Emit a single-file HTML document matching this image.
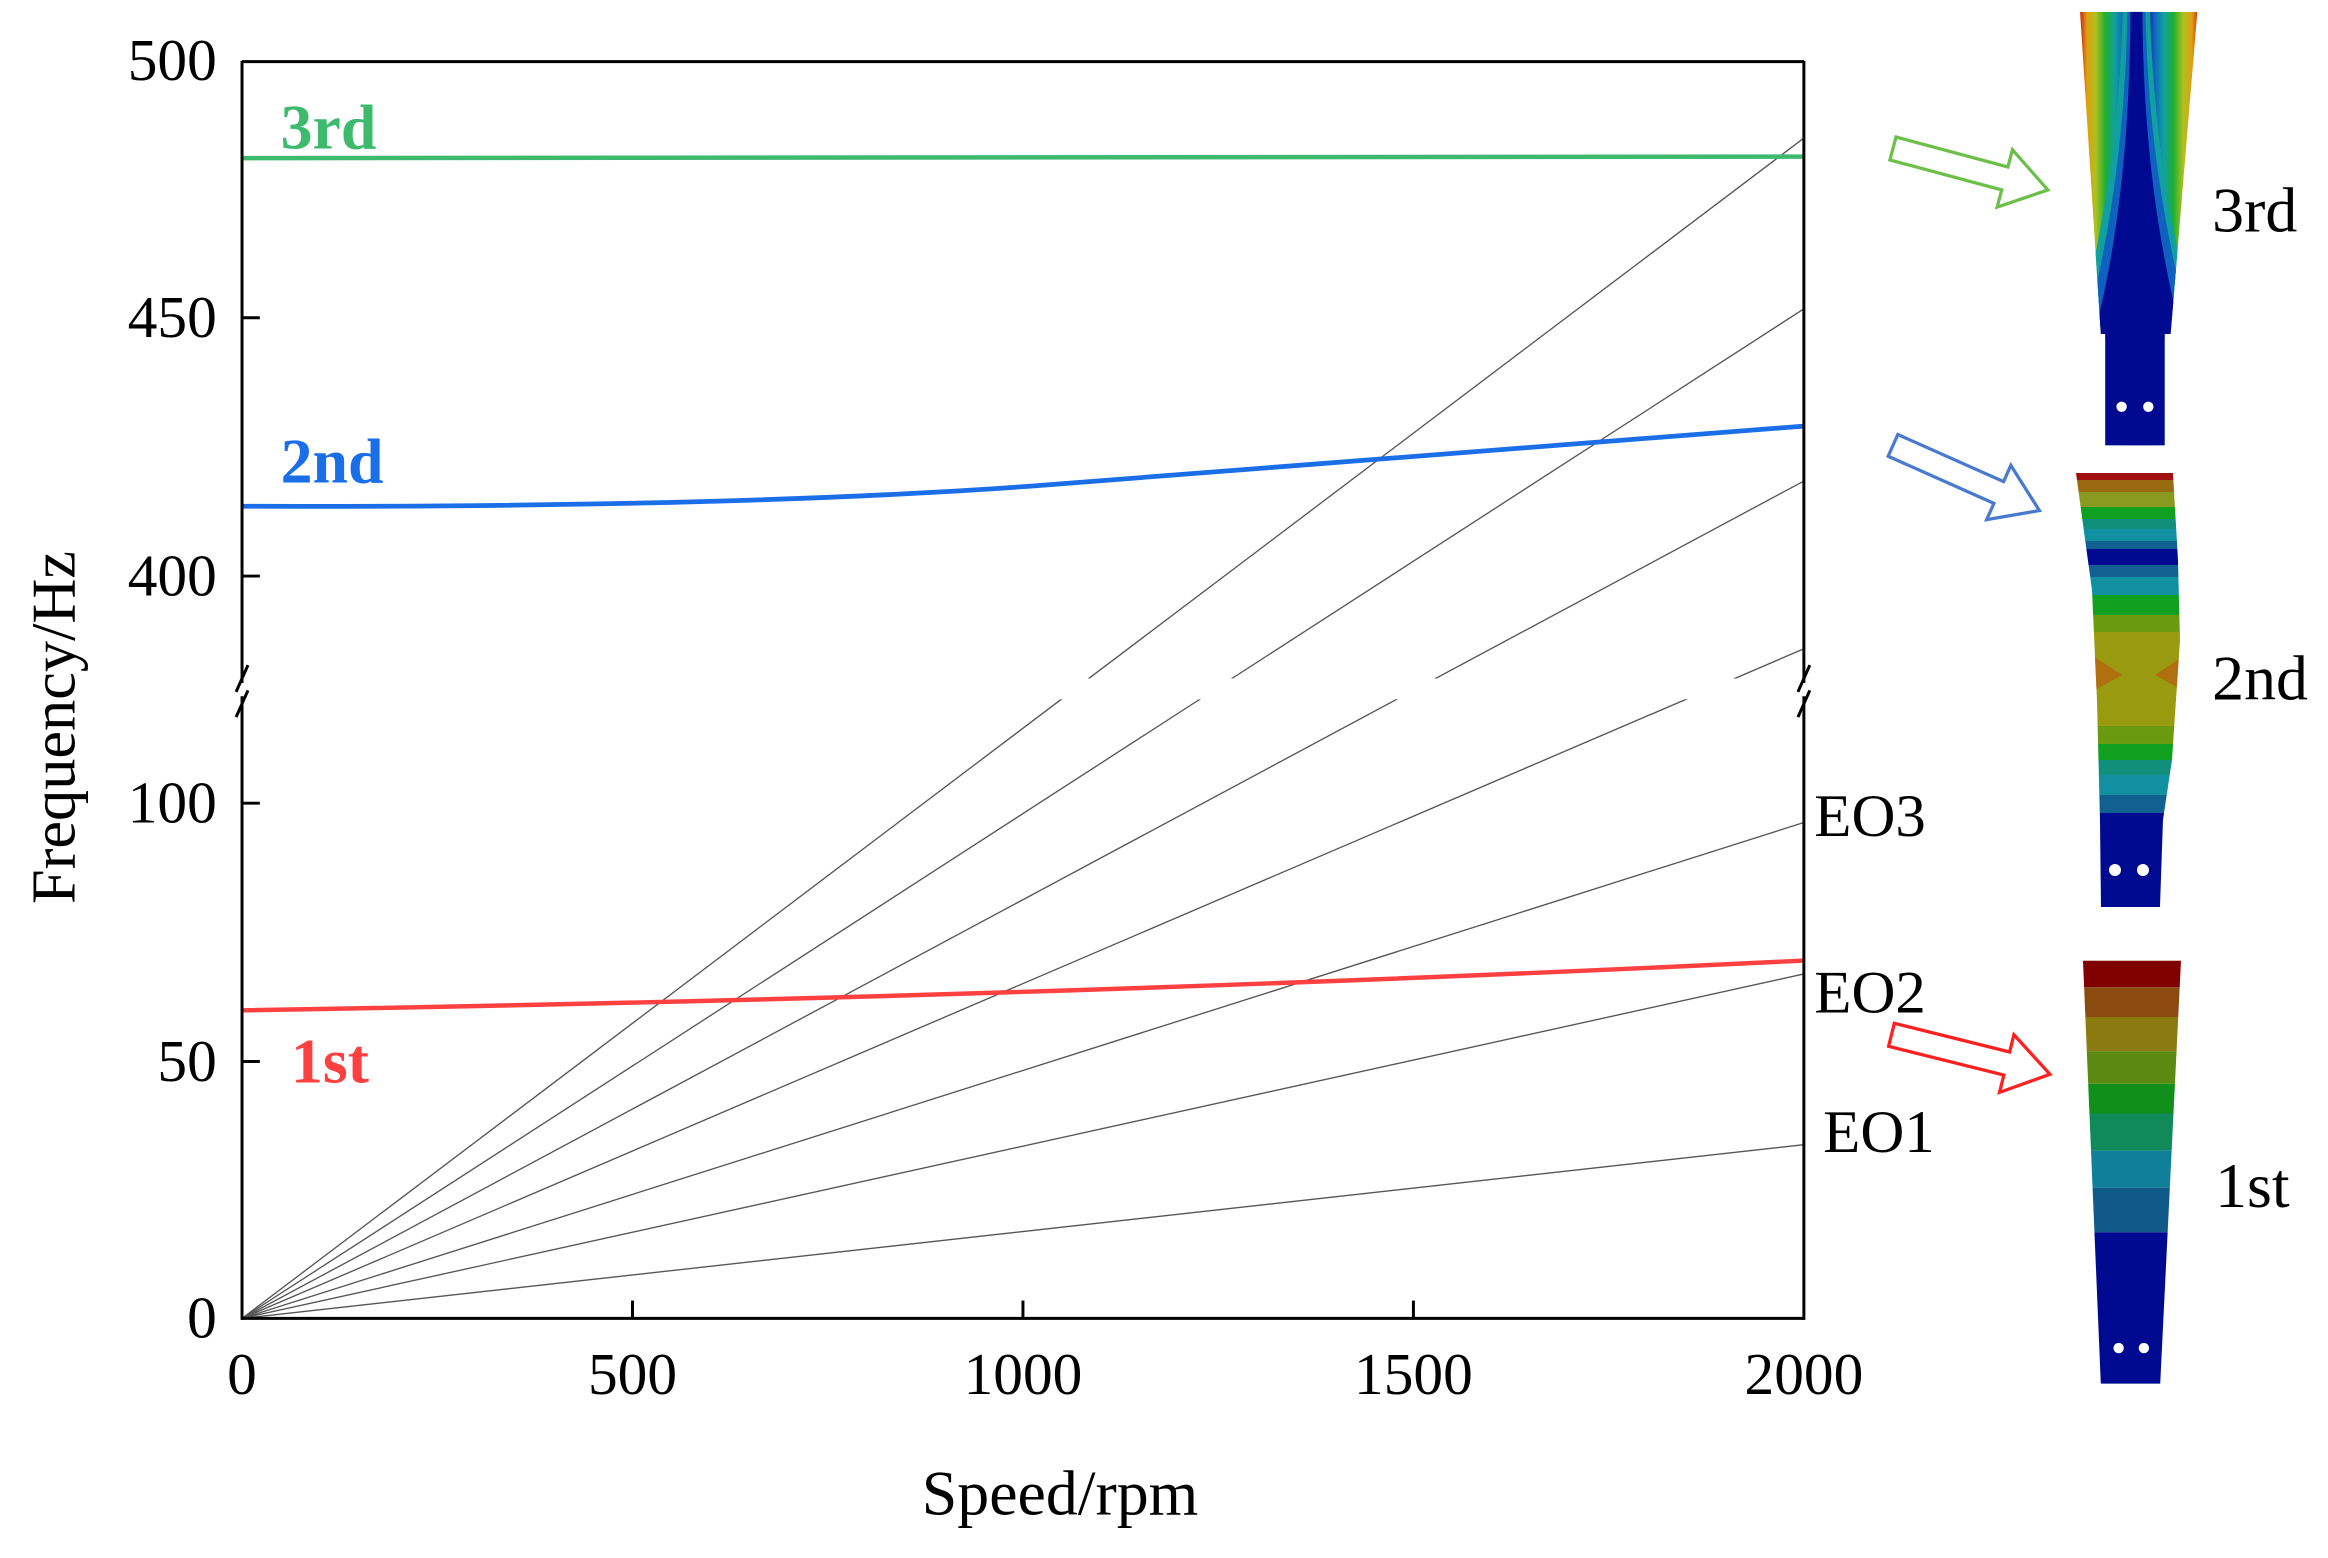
<!DOCTYPE html>
<html><head><meta charset="utf-8"><style>html,body{margin:0;padding:0;background:#fff}svg{display:block}</style></head>
<body>
<svg width="2328" height="1558" viewBox="0 0 1568 1049.4" xmlns="http://www.w3.org/2000/svg" font-family="'Liberation Serif',serif">
<defs>
<clipPath id="c2"><path d="M2076,473 L2173,473 L2178,560 L2180,640 L2172,760 L2163,820 L2160,907 L2101,907 L2100,820 L2097,700 L2092,590 Z"/></clipPath>
<clipPath id="c1"><path d="M1403,647 L1469,647 L1455,932 L1415,932 Z"/></clipPath>
<clipPath id="c3"><path d="M1401,8 L1480,8 L1462,225 L1458,225 L1458,300 L1418,300 L1418,225 L1415,225 Z"/></clipPath>
<linearGradient id="g3" x1="0" x2="1" y1="0" y2="0">
<stop offset="0" stop-color="#c01010"/><stop offset="0.07" stop-color="#e0a010"/><stop offset="0.14" stop-color="#b0c020"/><stop offset="0.22" stop-color="#20b030"/><stop offset="0.3" stop-color="#10a0a0"/><stop offset="0.38" stop-color="#1060c0"/><stop offset="0.44" stop-color="#000a90"/><stop offset="0.56" stop-color="#000a90"/><stop offset="0.62" stop-color="#1060c0"/><stop offset="0.7" stop-color="#10a0a0"/><stop offset="0.78" stop-color="#20b030"/><stop offset="0.86" stop-color="#b0c020"/><stop offset="0.93" stop-color="#e0a010"/><stop offset="1" stop-color="#c01010"/>
</linearGradient>
</defs>
<rect width="1568" height="1049.4" fill="#fff"/>
<g stroke="#555" stroke-width="0.9" fill="none">
<line x1="163" y1="888" x2="1215" y2="771"/>
<line x1="163" y1="888" x2="1215" y2="656"/>
<line x1="163" y1="888" x2="1215" y2="554"/>
<line x1="163" y1="888" x2="1215" y2="437"/>
<line x1="163" y1="888" x2="1215" y2="324"/>
<line x1="163" y1="888" x2="1215" y2="208"/>
<line x1="163" y1="888" x2="1215" y2="93"/>
</g>
<rect x="166" y="457" width="1046" height="14" fill="#fff"/>
<line x1="163" y1="106.5" x2="1215" y2="105.5" stroke="#3dba6e" stroke-width="3"/>
<path d="M163,341 Q500,342 700,327 T1215,287" stroke="#1a6fe8" stroke-width="3.2" fill="none"/>
<path d="M163,680.5 Q700,672 1215,647" stroke="#ff4040" stroke-width="3" fill="none"/>
<g stroke="#000" stroke-width="2" fill="none">
<line x1="163" y1="41.5" x2="1215" y2="41.5"/>
<line x1="163" y1="888" x2="1215" y2="888"/>
<line x1="163" y1="41" x2="163" y2="460"/><line x1="163" y1="469" x2="163" y2="889"/>
<line x1="1215" y1="41" x2="1215" y2="460"/><line x1="1215" y1="469" x2="1215" y2="889"/>
<line x1="159" y1="466" x2="167" y2="448"/><line x1="159" y1="483" x2="167" y2="465"/>
<line x1="1211" y1="466" x2="1219" y2="448"/><line x1="1211" y1="483" x2="1219" y2="465"/>
<line x1="163" y1="214" x2="175" y2="214"/><line x1="163" y1="388" x2="175" y2="388"/>
<line x1="163" y1="541" x2="175" y2="541"/><line x1="163" y1="715" x2="175" y2="715"/>
<line x1="426" y1="888" x2="426" y2="876"/><line x1="689" y1="888" x2="689" y2="876"/><line x1="952" y1="888" x2="952" y2="876"/>
</g>
<g font-size="40" fill="#000">
<g text-anchor="end">
<text x="146" y="54">500</text><text x="146" y="227">450</text><text x="146" y="401">400</text>
<text x="146" y="554">100</text><text x="146" y="728">50</text><text x="146" y="901">0</text>
</g>
<g text-anchor="middle">
<text x="163" y="939">0</text><text x="426" y="939">500</text><text x="689" y="939">1000</text><text x="952" y="939">1500</text><text x="1215" y="939">2000</text>
<text x="714" y="1020" font-size="43">Speed/rpm</text>
<text transform="translate(50,490) rotate(-90)" font-size="42">Frequency/Hz</text>
</g>
<text x="1222" y="563" font-size="41">EO3</text>
<text x="1222" y="682" font-size="41">EO2</text>
<text x="1228" y="776" font-size="41">EO1</text>
<text x="1490" y="156" font-size="43">3rd</text>
<text x="1490" y="471" font-size="43">2nd</text>
<text x="1492" y="813" font-size="43">1st</text>
</g>
<g font-size="43" font-weight="bold">
<text x="189" y="100" fill="#3dba6e">3rd</text>
<text x="189" y="325" fill="#1a6fe8">2nd</text>
<text x="196" y="729" fill="#ff4040">1st</text>
</g>
<g fill="none" stroke-width="2.2" stroke-linejoin="miter">
<path transform="translate(1275,100) rotate(15)" d="M0,-8 L78,-8 L78,-20 L108,0 L78,20 L78,8 L0,8 Z" stroke="#6cc04a"/>
<path transform="translate(1275,300) rotate(24)" d="M0,-8 L78,-8 L78,-20 L108,0 L78,20 L78,8 L0,8 Z" stroke="#4a7ad0"/>
<path transform="translate(1274,697) rotate(14)" d="M0,-8 L80,-8 L80,-20 L110,0 L80,20 L80,8 L0,8 Z" stroke="#ff2020"/>
</g>
<g clip-path="url(#c3)">
<rect x="1400" y="0" width="82" height="310" fill="url(#g3)"/>
<path d="M1430,0 C1428,100 1412,170 1402,215 L1478,215 C1466,170 1450,100 1448,0 Z" fill="#10a0a0"/>
<path d="M1433,0 C1432,100 1418,170 1405,222 L1475,222 C1462,170 1446,100 1445,0 Z" fill="#1060c0"/>
<path d="M1435,0 C1435,100 1425,170 1410,228 L1470,228 C1455,170 1443,100 1443,0 Z" fill="#000a90"/>
<rect x="1400" y="225" width="82" height="85" fill="#000a90"/>
</g>
<circle cx="1429" cy="274" r="3.5" fill="#fff"/><circle cx="1447" cy="274" r="3.5" fill="#fff"/>
<g transform="scale(0.67354)">
<g clip-path="url(#c2)">
<rect x="2070" y="470" width="120" height="10" fill="#a01010"/>
<rect x="2070" y="480" width="120" height="12" fill="#9a6a10"/>
<rect x="2070" y="492" width="120" height="15" fill="#8a9a20"/>
<rect x="2070" y="507" width="120" height="12" fill="#10a020"/>
<rect x="2070" y="519" width="120" height="10" fill="#10907a"/>
<rect x="2070" y="529" width="120" height="12" fill="#1090a0"/>
<rect x="2070" y="541" width="120" height="8" fill="#106090"/>
<rect x="2070" y="549" width="120" height="16" fill="#000a90"/>
<rect x="2070" y="565" width="120" height="12" fill="#106090"/>
<rect x="2070" y="577" width="120" height="18" fill="#1090a0"/>
<rect x="2070" y="595" width="120" height="20" fill="#10a020"/>
<rect x="2070" y="615" width="120" height="17" fill="#6a9a10"/>
<rect x="2070" y="632" width="120" height="94" fill="#9a9a10"/>
<path d="M2095,657 L2122,675 L2095,690 Z" fill="#b07010"/>
<path d="M2182,657 L2155,675 L2182,690 Z" fill="#b07010"/>
<rect x="2070" y="726" width="120" height="18" fill="#6a9a10"/>
<rect x="2070" y="744" width="120" height="16" fill="#10a020"/>
<rect x="2070" y="760" width="120" height="15" fill="#10907a"/>
<rect x="2070" y="775" width="120" height="20" fill="#1090a0"/>
<rect x="2070" y="795" width="120" height="18" fill="#106090"/>
<rect x="2070" y="813" width="120" height="100" fill="#000a90"/>
</g>
<circle cx="2115" cy="870" r="6" fill="#fff"/><circle cx="2143" cy="870" r="6" fill="#fff"/>
</g>
<g clip-path="url(#c1)">
<rect x="1400" y="645" width="72" height="20" fill="#800000"/>
<rect x="1400" y="665" width="72" height="20" fill="#8a4a10"/>
<rect x="1400" y="685" width="72" height="23" fill="#8a7a10"/>
<rect x="1400" y="708" width="72" height="22" fill="#5a8a10"/>
<rect x="1400" y="730" width="72" height="20" fill="#10901a"/>
<rect x="1400" y="750" width="72" height="25" fill="#108a5a"/>
<rect x="1400" y="775" width="72" height="25" fill="#10809a"/>
<rect x="1400" y="800" width="72" height="30" fill="#105a8a"/>
<rect x="1400" y="830" width="72" height="105" fill="#000a90"/>
</g>
<circle cx="1427" cy="908" r="3.5" fill="#fff"/><circle cx="1444" cy="908" r="3.5" fill="#fff"/>
</svg>
</body></html>
